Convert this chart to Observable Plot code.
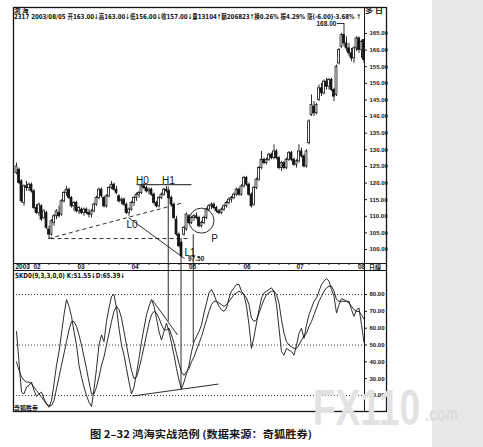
<!DOCTYPE html>
<html><head><meta charset="utf-8">
<script src="https://cdn.jsdelivr.net/npm/d3@7/dist/d3.min.js"></script>
<script src="https://cdn.jsdelivr.net/npm/@observablehq/plot@0.6/dist/plot.umd.min.js"></script>
<style>
html,body{margin:0;padding:0;background:#fff}
#wrap{position:relative;width:483px;height:447px;overflow:hidden;background:#fff}
#band{position:absolute;left:432px;top:0;width:51px;height:447px;background:#e8e8e8}
.layer{position:absolute;left:0;top:0}
</style></head><body>
<div id="wrap"><div id="band"></div><div id="price" class="layer"></div><div id="osc" class="layer"></div><svg id="deco" class="layer" width="483" height="447"></svg></div>
<script>
// ---------- data ----------
const open = [123,124,120.5,114,119,118.5,119.5,117.5,112.5,111,
 113,109.5,111,106,104.5,108,110,111,110.5,114.5,
 117,118,115.5,113,114,111.5,112,111,112,111,
 110.5,111.5,113.5,115.5,118,115.5,113,116,118.5,119.5,
 118,116,114.5,115,113.5,111,112,114,115.5,116.5,
 117,119,118.5,117.5,118,116.5,114,113,115.5,116.5,
 118,117.5,115.5,113.5,109,104.5,102,104.5,106,110,
 108,109.5,110,109.5,107,108,109.5,112,113,113.5,
 112.5,111.5,111,112,113,114,115,115.5,116.5,118,
 116.5,119,121.5,119.5,116.5,113.5,118.5,121,124.5,127,
 126,127,128.5,127.5,129.5,127.5,124.5,126,124.5,127,
 129,127,125.5,126.5,129.5,128,125,132,140.5,143,
 141,145,148.5,147,150.5,149,151,148,146.5,156,
 161,164.5,162,160.5,159,157.5,160.5,163.5,160,163];
const high = [126,124.5,121,119.5,120.5,120,120,118,113.5,114,
 113.5,112,111.5,107,109,110.5,112,113,115,117.5,
 119,118.5,116,114.5,114.5,113,112.5,112.5,112.5,112,
 112,114,116,118.5,118.5,116,116.5,119,120.5,120,
 119,116.5,115.5,115.5,114,112.5,114.5,116,117,117.5,
 119.5,120,119,118.5,118.5,117,114.5,116,117,118.5,
 119,118,116,114,110,105,102.5,107,111,110.5,
 110,110.5,111,110,108.5,110,112.5,113.5,114,114,
 113,112,112.5,113.5,114.5,115.5,116,117,118.5,118.5,
 119.5,122,122,120,117,119,121.5,125,129.5,127.5,
 127.5,129,129,131.5,130,128,126.5,126.5,127.5,129.5,
 129.5,127.5,127,131.5,130.5,128.5,130,139,146.5,144.5,
 144,149.5,150,151,151.5,151.5,151.5,148.5,155.5,160.5,
 165,168,164,162,160.5,161,164,164,163,163];
const low = [122.5,119.5,114,113,117.5,117.5,117,112,110.5,110,
 108.5,109,106,103,104,107,109,109.5,110,114,
 116,115,112.5,111.5,111,110.5,110.5,110,110.5,109.5,
 109.5,111,113,115,115.5,112.5,112.5,115.5,118,117.5,
 116.5,114,113.5,113,110.5,110,111.5,113,114.5,115.5,
 116.5,118,117,116.5,116,113.5,112.5,112.5,115,116,
 117,115,113,109,104,100.5,97.5,104,105.5,107.5,
 107.5,108.5,109,106.5,106.5,107.5,109,111.5,112,112,
 111,110.5,110.5,111.5,112.5,113.5,114,115,116,116,
 116,118.5,119,116,112.5,113,118,120.5,124,125.5,
 125.5,126.5,127,127,127,124,123.5,124,124,126.5,
 126.5,125,124.5,126,127.5,124.5,124.5,131.5,140,140,
 140.5,144.5,146,146.5,148,148,147.5,144.5,146,155.5,
 160.5,161,159.5,158,156.5,156,159.5,159,157.5,156];
const close = [125,120,114.5,119,118.5,119.5,117.5,112.5,111,113.5,
 109,111.5,106.5,104.5,108.5,110,111.5,110,114.5,117,
 118,115.5,113,114,111.5,112.5,111,112,111,110.5,
 111.5,113.5,115.5,118,116,113,116,118.5,119.5,118,
 117,114.5,115,113.5,111,112,114,115.5,116.5,117,
 119,118.5,117.5,118,116.5,114,113,115.5,116.5,118,
 117.5,115.5,113.5,109.5,104.5,101,98,106.5,110.5,108,
 109.5,110,109.5,107,108,109.5,112,113,113.5,112.5,
 111.5,111,112,113,114,115,115.5,116.5,118,116.5,
 119,121.5,119.5,116.5,113,118.5,121,124.5,127,126,
 127,128.5,127.5,129.5,127.5,124.5,126,124.5,127,129,
 127,125.5,126.5,129.5,128,125,129.5,138.5,143.5,141,
 143.5,148.5,147,150.5,149,151,148,146,155,160,
 164.5,162,160.5,159,157.5,160.5,163.5,160,162.5,157];
const kLine = [58,40,22,21,25,26,28,23,19.5,21,
 22,18,15,13,17,27,38,46,57,68,
 77,73,67,58,50,38,31,25,20,16,
 13.5,24,36,50,56,52,64,72,79,80,
 72,60,50,44,36,28,21,25,33,42,
 52,60,68,73,77,73,66,58,53,58,
 63,58,51,44,36,29,24,28,33,38,
 46,52,55,58,62,69,75,81,83,80,
 76,73,71,70,72,78,82,84,86,86,
 82,80,73,62,48,55,63,71,78,81,
 82,83,84,82,74,60,46,44,48,47,
 46,44,50,57,60,54,62,68,72,76,
 78,82,86,88,89.5,88,83,79,69,74,
 77.5,77,76,76,71,67,71,72,62,51.55];
const dLine = [40,35,31,29,28,28,27,25,23,21,
 19,17,15,14,14,17,24,31,38,45,
 52,59,64,64,61,56,50,43,36,28,
 21,21,25,31,38,43,50,57,64,70,
 73,71,66,58,50,42,35,30,31,36,
 42,49,56,63,68,70,69,66,62,59,
 59,60,56,51,45,39,34,32,34,36,
 40,43,47,51,55,60,65,70,74,76,
 76,75,74,73,74,76,78,80,81,82,
 81,80,78,74,66,64,65,69,73,77,
 80,81,82,82,80,75,65,57,52,50,
 49,48,48,50,53,55,57,61,64,68,
 72,76,79,82,84,85,85,82,77,76,
 76,76,76,75,73,71,70,70,68,65.39];
const monthLabels = ["2003","02","03","04","05","06","07","08"];
const monthPos = [-0.4, 6.8, 24.4, 46, 69, 90.8, 112, 136.6];
const priceTicks = [100,105,110,115,120,125,130,135,140,145,150,155,160,165];
const oscTicks = [20,30,40,50,60,70,80];
const oscGuides = [20,50,80];
// annotations (index / price / oscillator units)
const hLine = [{i1:48, p1:119.5, i2:70, p2:119.5}];
const dashedLines = [{i1:12.8, p1:103.3, i2:66.8, p2:114.1},{i1:13.6, p1:103.3, i2:68.4, p2:103.3}];
const solidLines = [{i1:44.8, p1:109.6, i2:67.2, p2:97.3},{i1:128.2, p1:168, i2:131, p2:168}];
const vLines = [{i:60.7, p:118.8, k:64},{i:65.8, p:103.3, k:23.5},{i:70.7, p:104.5, k:51}];
const priceNotes = [{t:"H0", i:50.4, p:120.7},{t:"H1", i:60.8, p:120.7},{t:"L0", i:46.2, p:107.4},{t:"L1", i:69.4, p:99.0},{t:"P", i:79.2, p:103.2}];
const smallNotes = [{t:"97.50", i:68.6, p:97.2},{t:"168.00", i:120.0, p:167.8}];
const circleP = [{i:74, p:108.7}];
const oscLinks = [{i1:54.4, v1:76.7, i2:64.4, v2:56},{i1:46.4, v1:19.7, i2:80.8, v2:26.8}];

// ---------- build ----------
const W = 483, H = 447;
const candles = close.map((c, i) => ({i, o: open[i], h: high[i], l: low[i], c}));
const up = candles.filter(d => d.c >= d.o), down = candles.filter(d => d.c < d.o);
const kd = kLine.map((k, i) => ({i, k, d: dLine[i]}));
const xDom = [-1.2, 139.2];
const baseStyle = {background: "transparent", fontFamily: "Liberation Sans, Arial, sans-serif", fontSize: "6px", fontWeight: "bold", overflow: "visible", color: "#151515"};
const pMin = 95.8;

const pricePlot = Plot.plot({
  width: W, height: H, marginLeft: 13, marginRight: W - 364, marginTop: 20, marginBottom: H - 263,
  x: {domain: xDom, axis: null},
  y: {domain: [pMin, 168.9], label: null},
  style: baseStyle,
  marks: [
    Plot.axisY(priceTicks, {anchor: "right", tickSize: 2, tickPadding: 3, tickFormat: d => d.toFixed(2), label: null}),
    Plot.ruleX(d3.range(1, 140, 4), {x: d => d, y1: pMin, y2: pMin - 0.6, stroke: "#151515"}),
    Plot.text(monthLabels, {x: (d, j) => monthPos[j], y: pMin - 1.05, text: d => d, textAnchor: "start", fontSize: 6.5}),
    Plot.ruleX(candles, {x: "i", y1: "l", y2: "h", stroke: "#151515", strokeWidth: 0.9}),
    Plot.rect(up, {x1: d => d.i - 0.38, x2: d => d.i + 0.38, y1: "o", y2: "c", fill: "white", stroke: "#151515", strokeWidth: 0.8}),
    Plot.rect(down, {x1: d => d.i - 0.38, x2: d => d.i + 0.38, y1: "o", y2: "c", fill: "#151515", stroke: "#151515", strokeWidth: 0.8}),
    Plot.link(hLine, {x1: "i1", y1: "p1", x2: "i2", y2: "p2", stroke: "#151515", strokeWidth: 1}),
    Plot.link(dashedLines, {x1: "i1", y1: "p1", x2: "i2", y2: "p2", stroke: "#151515", strokeWidth: 0.9, strokeDasharray: "4,3"}),
    Plot.link(solidLines, {x1: "i1", y1: "p1", x2: "i2", y2: "p2", stroke: "#151515", strokeWidth: 0.9}),
    Plot.ruleX(vLines, {x: "i", y1: "p", y2: pMin - 2.2, stroke: "#151515", strokeWidth: 0.9}),
    Plot.dot(circleP, {x: "i", y: "p", r: 12.5, fill: "none", stroke: "#151515", strokeWidth: 0.9}),
    Plot.text(priceNotes, {x: "i", y: "p", text: "t", fontSize: 10, fontWeight: "normal", fill: "#151515"}),
    Plot.text(smallNotes, {x: "i", y: "p", text: "t", textAnchor: "start", fontSize: 6.5, fill: "#151515"})
  ]
});
document.getElementById("price").appendChild(pricePlot);

const oscPlot = Plot.plot({
  width: W, height: H, marginLeft: 13, marginRight: W - 364, marginTop: 270, marginBottom: H - 411,
  x: {domain: xDom, axis: null},
  y: {domain: [10.5, 94.3], label: null},
  style: baseStyle,
  marks: [
    Plot.ruleY(oscGuides, {stroke: "#222", strokeDasharray: "1,2", strokeWidth: 0.9}),
    Plot.axisY(oscTicks, {anchor: "right", tickSize: 2, tickPadding: 3, tickFormat: d => d.toFixed(2), label: null}),
    Plot.line(kd, {x: "i", y: "d", stroke: "#151515", strokeWidth: 0.9}),
    Plot.line(kd, {x: "i", y: "k", stroke: "#151515", strokeWidth: 0.9}),
    Plot.ruleX(vLines, {x: "i", y1: 94.3, y2: "k", stroke: "#151515", strokeWidth: 0.9}),
    Plot.link(oscLinks, {x1: "i1", y1: "v1", x2: "i2", y2: "v2", stroke: "#151515", strokeWidth: 0.9})
  ]
});
document.getElementById("osc").appendChild(oscPlot);

// ---------- frame, header texts, caption ----------
const svg = d3.select("#deco");
const ink = "#151515";
function ln(x1, y1, x2, y2, w) { svg.append("line").attr("x1", x1).attr("y1", y1).attr("x2", x2).attr("y2", y2).attr("stroke", ink).attr("stroke-width", w || 1); }
function tx(s, x, y, o) {
  o = o || {};
  const t = svg.append("text").attr("x", x).attr("y", y).text(s)
    .attr("font-family", o.family || "Liberation Sans, 'Noto Sans CJK SC', sans-serif")
    .attr("font-size", o.size || 7).attr("font-weight", o.weight || "bold")
    .attr("fill", o.fill || ink).attr("text-anchor", o.anchor || "start");
  if (o.len) t.attr("textLength", o.len).attr("lengthAdjust", "spacingAndGlyphs");
  return t;
}
svg.append("rect").attr("x", 13.5).attr("y", 7.5).attr("width", 373).attr("height", 404)
  .attr("fill", "none").attr("stroke", ink).attr("stroke-width", 1.3);
ln(364.5, 7.5, 364.5, 411.5);
ln(13.5, 263.5, 386.5, 263.5);
ln(13.5, 270.5, 386.5, 270.5);
tx("鴻 海", 14, 13, {size: 6.5, family: "'Noto Sans CJK TC', sans-serif"});
tx("多 日", 365, 13, {size: 6.5, family: "'Noto Sans CJK SC', sans-serif", len: 18});
tx("2317 2003/08/05 开163.00↓高163.00↓低156.00↓收157.00↓量13104↑额206823↑换0.26% 振4.29% 涨(-6.00)-3.68% ↑", 14, 19.3, {size: 6.8, len: 347, family: "'DejaVu Sans', 'Noto Sans CJK SC', sans-serif"});
tx("日線", 369, 269.5, {size: 6.5, family: "'Noto Sans CJK TC', sans-serif", len: 12});
tx("SKD0(9,3,3,0,0) K:51.55↓D:65.39↓", 15, 277.5, {size: 7, len: 110, family: "'DejaVu Sans', sans-serif"});
tx("奇狐胜券", 14, 410, {size: 6, family: "'Noto Sans CJK SC', sans-serif", len: 24});
tx("图 2–32   鸿海实战范例 (数据来源：奇狐胜券)", 90, 438, {size: 10, family: "'Noto Sans CJK SC', sans-serif", len: 222});
// watermark
tx("FX110", 313, 425, {size: 50, fill: "#e2e2e2", len: 107, family: "Liberation Sans, Arial, sans-serif"});
tx(".com", 425, 421, {size: 20, fill: "#dcdcdc", len: 33, family: "Liberation Sans, Arial, sans-serif"});
</script>
</body></html>
